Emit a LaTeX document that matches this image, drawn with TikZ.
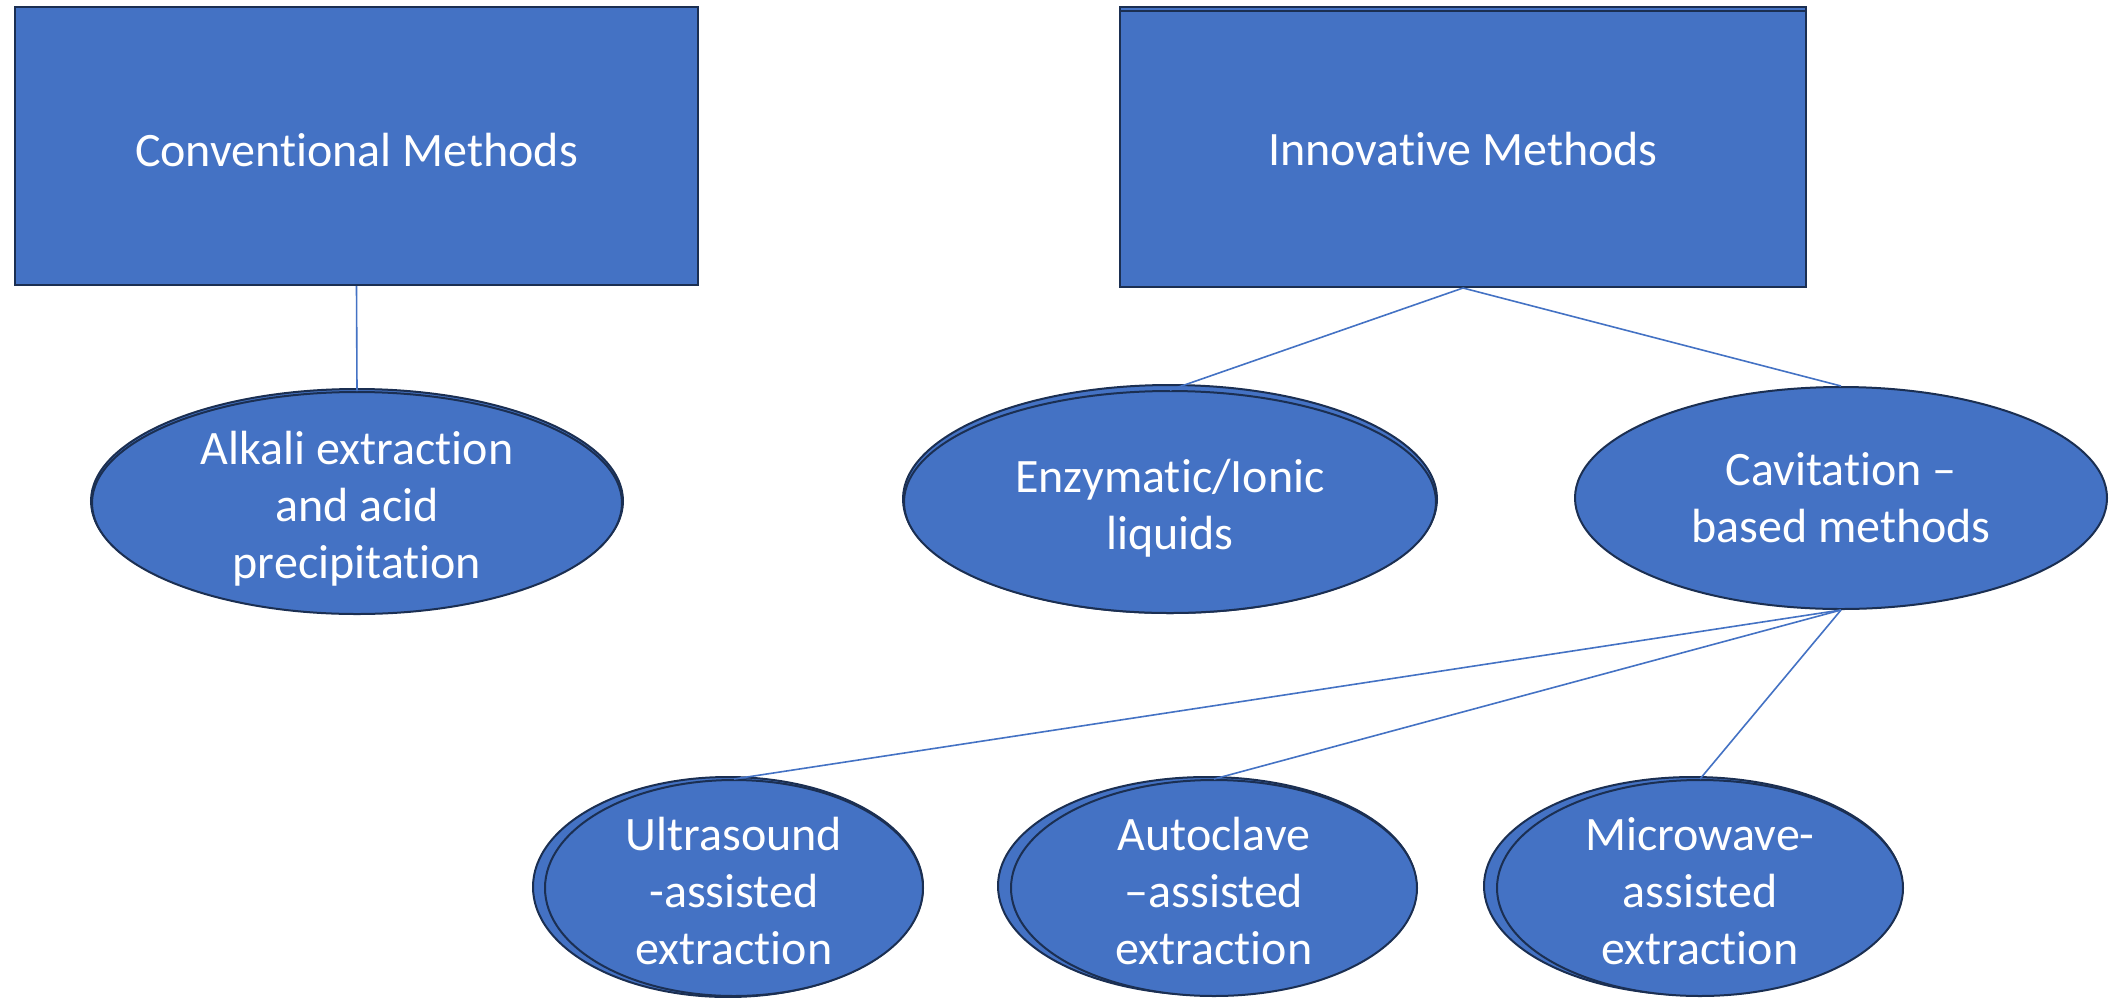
\documentclass[tikz,border=0pt]{standalone}
\usepackage{fontspec}
\setmainfont[RawFeature={-liga,-clig,-calt,-dlig}]{Carlito}
\usetikzlibrary{shapes.geometric}
\definecolor{fillblue}{HTML}{4472C4}
\definecolor{edgenavy}{HTML}{1B2F52}
\definecolor{linkblue}{HTML}{4472C4}
\begin{document}
\begin{tikzpicture}[x=0.5pt,y=-0.5pt,
  box/.style={rectangle,draw=edgenavy,line width=1pt,fill=fillblue,inner sep=0pt},
  oval/.style={ellipse,draw=edgenavy,line width=1pt,fill=fillblue,inner sep=0pt},
  lbl/.style={text=white,align=center,font=\fontsize{24}{28.5}\selectfont,inner sep=0pt},
  link/.style={draw=linkblue,line width=0.8pt}]
\fill[white] (0,0) rectangle (2116,997);
\useasboundingbox (0,0) rectangle (2116,997);

% top level boxes
\node[box,minimum width=341.5pt,minimum height=139pt] (conv) at (356.5,146) {};
\node[lbl] (convt) at ([yshift=-2pt]conv) {Conventional Methods};

\node[box,minimum width=343pt,minimum height=138pt] (innb) at (1463,145) {};
\node[box,minimum width=343pt,minimum height=138pt] (inn) at (1463,149) {};
\node[lbl] (innt) at (inn) {Innovative Methods};

% second level
\node[oval,minimum width=266pt,minimum height=112pt] (alkb) at (357,501) {};
\node[oval,minimum width=265pt,minimum height=111pt] (alk) at (357,503) {};
\node[lbl] (alkt) at ([yshift=-3pt]alk) {Alkali extraction\\and acid\\precipitation};

\node[oval,minimum width=267pt,minimum height=114pt] (enzb) at (1170,499) {};
\node[oval,minimum width=266pt,minimum height=111pt] (enz) at (1170,502) {};
\node[lbl] (enzt) at ([yshift=-3pt]enz) {Enzymatic/Ionic\\liquids};

\node[oval,minimum width=266pt,minimum height=111pt] (cav) at (1841,498) {};
\node[lbl] (cavt) at (cav) {Cavitation –\\based methods};

% third level
\node[oval,minimum width=195pt,minimum height=110pt] (ultb) at (728,887) {};
\node[oval,minimum width=189pt,minimum height=108pt] (ult) at (734,888) {};
\node[lbl] (ultt) at ([yshift=-1.5pt]ult) {Ultrasound\\-assisted\\extraction};

\node[oval,minimum width=209pt,minimum height=109pt] (autb) at (1207,886) {};
\node[oval,minimum width=203pt,minimum height=108pt] (aut) at (1214,888) {};
\node[lbl] (autt) at ([yshift=-1.5pt]aut) {Autoclave\\–assisted\\extraction};

\node[oval,minimum width=209pt,minimum height=109pt] (micb) at (1693,886) {};
\node[oval,minimum width=203pt,minimum height=108pt] (mic) at (1700,888) {};
\node[lbl] (mict) at ([yshift=-1.5pt]mic) {Microwave-\\assisted\\extraction};

% connectors
\draw[link] (conv.south) -- (alk.north);
\draw[link] (inn.south) -- (enz.north);
\draw[link] (inn.south) -- (cav.north);
\draw[link] (cav.south) -- (ult.north);
\draw[link] (cav.south) -- (aut.north);
\draw[link] (cav.south) -- (mic.north);
\end{tikzpicture}
\end{document}
